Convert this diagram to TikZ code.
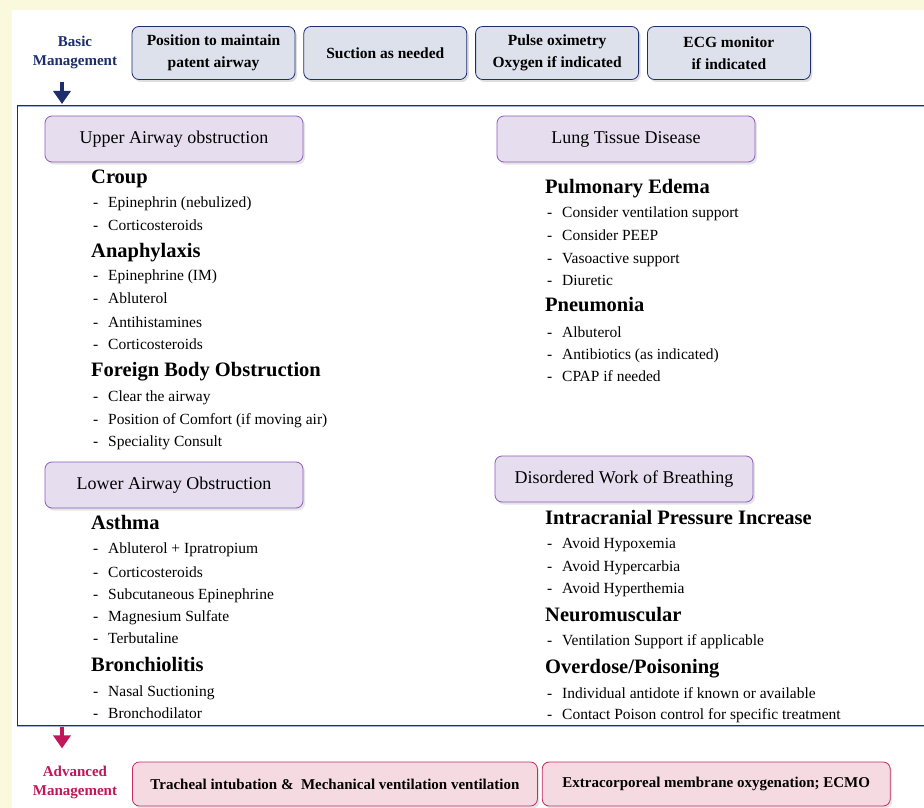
\documentclass[tikz,border=0pt]{standalone}
\usepackage{fontspec}
\setmainfont{Liberation Serif}
\usetikzlibrary{positioning,arrows.meta,shadows}

\definecolor{pagebg}{HTML}{FAF8DD}
\definecolor{navy}{HTML}{1C2E6B}
\definecolor{basicfill}{HTML}{DDE1EB}
\definecolor{catfill}{HTML}{E6DEEF}
\definecolor{catline}{HTML}{8B5BBE}
\definecolor{advfill}{HTML}{F6DAE2}
\definecolor{advline}{HTML}{C42C66}
\definecolor{advtext}{HTML}{C0175A}
\definecolor{frameshadow}{HTML}{A3B3D8}

\newcommand{\itm}[1]{\makebox[15pt][l]{-}#1}

\tikzset{
  basicbox/.style={shape=rectangle, rounded corners=7pt, draw=navy, line width=0.8pt, fill=basicfill, align=center, minimum width=163pt, minimum height=53pt, font=\bfseries\fontsize{15.5}{22}\selectfont, drop shadow={shadow xshift=2pt, shadow yshift=-2.5pt, opacity=0.25}},
  catbox/.style={shape=rectangle, rounded corners=7pt, draw=catline, line width=0.8pt, fill=catfill, align=center, minimum width=258pt, minimum height=46pt, font=\fontsize{18}{21}\selectfont, drop shadow={shadow xshift=2pt, shadow yshift=-2.5pt, opacity=0.2}},
  advbox/.style={shape=rectangle, rounded corners=7pt, draw=advline, line width=0.8pt, fill=advfill, align=center, minimum height=44pt, font=\bfseries\fontsize{15}{18}\selectfont, drop shadow={shadow xshift=2pt, shadow yshift=-2.5pt, opacity=0.2}},
  sidelabel/.style={align=center, inner sep=1pt, font=\bfseries\fontsize{15}{19}\selectfont},
  disease/.style={anchor=base west, inner sep=0pt, font=\bfseries\fontsize{20.5}{22}\selectfont},
  treat/.style={anchor=base west, inner sep=0pt, font=\fontsize{15.5}{18}\selectfont},
  mgmtarrow/.style={line width=4.5pt, -{Triangle[width=17pt,length=13pt]}},
}

\begin{document}
\begin{tikzpicture}[x=1pt,y=-1pt]

% page and frame
\useasboundingbox (0,0) rectangle (924,808);
\fill[pagebg] (0,0) rectangle (924,808);
\fill[white] (12,10) rectangle (924,808);
\draw[frameshadow, line width=1.2pt] (17,106.6) -- (930,106.6);
\draw[frameshadow, line width=1.2pt] (17,726.6) -- (930,726.6);
\node[shape=rectangle, draw=navy, line width=1.4pt, inner sep=0pt, anchor=north west, minimum width=930pt, minimum height=620pt] (frame) at (17,105) {};

% basic management
\node[sidelabel, text=navy] (basic) at (75,52) {Basic\\Management};
\node[basicbox] (airway) at (213.5,53) {Position to maintain\\patent airway};
\node[basicbox, right=8pt of airway] (suction) {Suction as needed};
\node[basicbox, right=8pt of suction] (oximetry) {Pulse oximetry\\Oxygen if indicated};
\node[basicbox, right=8pt of oximetry] (ecg) {ECG monitor\\if indicated};
\coordinate (basictip) at (62,104);
\draw[mgmtarrow, draw=navy, fill=navy, shorten <=12pt] (basic.south -| basictip) -- (basictip);

% upper airway
\node[catbox] (upper) at (174,139) {Upper Airway obstruction};
\node[disease] (croup) at (91,183) {Croup};
\node[treat] (croup1) at (93,207) {\itm{Epinephrin (nebulized)}};
\node[treat] (croup2) at (93,230) {\itm{Corticosteroids}};
\node[disease] (anaph) at (91,257) {Anaphylaxis};
\node[treat] (anaph1) at (93,280) {\itm{Epinephrine (IM)}};
\node[treat] (anaph2) at (93,303) {\itm{Abluterol}};
\node[treat] (anaph3) at (93,327) {\itm{Antihistamines}};
\node[treat] (anaph4) at (93,349) {\itm{Corticosteroids}};
\node[disease] (foreign) at (91,376) {Foreign Body Obstruction};
\node[treat] (foreign1) at (93,401) {\itm{Clear the airway}};
\node[treat] (foreign2) at (93,424) {\itm{Position of Comfort (if moving air)}};
\node[treat] (foreign3) at (93,446) {\itm{Speciality Consult}};

% lower airway
\node[catbox] (lower) at (174,485) {Lower Airway Obstruction};
\node[disease] (asthma) at (91,529) {Asthma};
\node[treat] (asthma1) at (93,553) {\itm{Abluterol + Ipratropium}};
\node[treat] (asthma2) at (93,577) {\itm{Corticosteroids}};
\node[treat] (asthma3) at (93,599) {\itm{Subcutaneous Epinephrine}};
\node[treat] (asthma4) at (93,621) {\itm{Magnesium Sulfate}};
\node[treat] (asthma5) at (93,643) {\itm{Terbutaline}};
\node[disease] (bronch) at (91,671) {Bronchiolitis};
\node[treat] (bronch1) at (93,696) {\itm{Nasal Suctioning}};
\node[treat] (bronch2) at (93,718) {\itm{Bronchodilator}};

% lung tissue
\node[catbox] (lung) at (626,139) {Lung Tissue Disease};
\node[disease] (edema) at (545,193) {Pulmonary Edema};
\node[treat] (edema1) at (547,217) {\itm{Consider ventilation support}};
\node[treat] (edema2) at (547,240) {\itm{Consider PEEP}};
\node[treat] (edema3) at (547,263) {\itm{Vasoactive support}};
\node[treat] (edema4) at (547,285) {\itm{Diuretic}};
\node[disease] (pneu) at (545,311) {Pneumonia};
\node[treat] (pneu1) at (547,337) {\itm{Albuterol}};
\node[treat] (pneu2) at (547,359) {\itm{Antibiotics (as indicated)}};
\node[treat] (pneu3) at (547,381) {\itm{CPAP if needed}};

% disordered breathing
\node[catbox] (disorder) at (624,479) {Disordered Work of Breathing};
\node[disease] (icp) at (545,524) {Intracranial Pressure Increase};
\node[treat] (icp1) at (547,548) {\itm{Avoid Hypoxemia}};
\node[treat] (icp2) at (547,571) {\itm{Avoid Hypercarbia}};
\node[treat] (icp3) at (547,593) {\itm{Avoid Hyperthemia}};
\node[disease] (neuro) at (545,621) {Neuromuscular};
\node[treat] (neuro1) at (547,645) {\itm{Ventilation Support if applicable}};
\node[disease] (overdose) at (545,673) {Overdose/Poisoning};
\node[treat] (overdose1) at (547,698) {\itm{Individual antidote if known or available}};
\node[treat] (overdose2) at (547,719) {\itm{Contact Poison control for specific treatment}};

% advanced management
\node[sidelabel, text=advtext] (advanced) at (75,782) {Advanced\\Management};
\node[advbox, minimum width=405pt, anchor=west] (intubation) at (132,784) {Tracheal intubation \& \ Mechanical ventilation ventilation};
\node[advbox, minimum width=348pt, right=4pt of intubation] (ecmo) {Extracorporeal membrane oxygenation; ECMO};
\coordinate (advtail) at (62,726.5);
\draw[mgmtarrow, draw=advtext, fill=advtext, shorten >=16pt] (advtail) -- (advanced.north -| advtail);

\end{tikzpicture}
\end{document}
